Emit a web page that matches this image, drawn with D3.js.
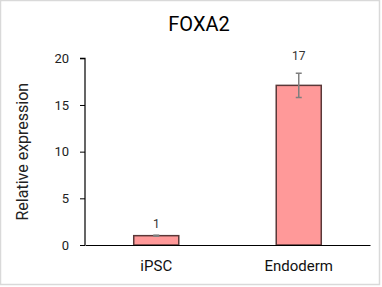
<!DOCTYPE html>
<html><head><meta charset="utf-8">
<script src="https://cdn.jsdelivr.net/npm/d3@7"></script>
<style>html,body{margin:0;padding:0;background:#fff;}svg{display:block;font-family:Roboto,"Open Sans",sans-serif;}</style>
</head><body>
<script>
const categories = ["iPSC", "Endoderm"];
const values = [1, 17.1];
const errors = [0.05, 1.3];
const labels = ["1", "17"];
const yTicks = [0, 5, 10, 15, 20];
const title = "FOXA2";
const yTitle = "Relative expression";

const W = 382, H = 287;
const m = {left: 85, right: 12, top: 58.3, bottom: 42};
const svg = d3.select("body").append("svg").attr("width", W).attr("height", H);
svg.append("rect").attr("x", 0.5).attr("y", 0.5).attr("width", W - 3).attr("height", H - 3)
  .attr("fill", "#fff").attr("stroke", "#d9d9d9").attr("stroke-width", 1.5);

const x = d3.scaleBand().domain(categories).range([m.left, W - m.right])
  .paddingInner(0.684).paddingOuter(0.342);
const y = d3.scaleLinear().domain([0, 20]).range([H - m.bottom, m.top]);

svg.append("text").attr("x", 199).attr("y", 31).attr("text-anchor", "middle")
  .attr("font-size", 20).attr("fill", "#000").text(title);

const yAxis = svg.append("g").attr("transform", `translate(${m.left},0)`)
  .call(d3.axisLeft(y).tickValues(yTicks).tickSize(5).tickPadding(11));
yAxis.select(".domain").attr("stroke", "#000").attr("stroke-width", 1.2).attr("d", `M-5,${y(20)}H0V${y(0)}`);
yAxis.selectAll(".tick line").attr("stroke", "#000");
yAxis.selectAll(".tick text").attr("font-size", 13).attr("fill", "#222").attr("font-family", "Roboto,sans-serif");

svg.append("text").attr("transform", `translate(28,${(y(0) + y(20)) / 2}) rotate(-90)`)
  .attr("text-anchor", "middle").attr("font-size", 16).attr("fill", "#222").text(yTitle);

const bars = svg.append("g");
bars.selectAll("rect").data(categories).join("rect")
  .attr("x", d => x(d)).attr("width", x.bandwidth())
  .attr("y", (d, i) => y(values[i])).attr("height", (d, i) => y(0) - y(values[i]))
  .attr("fill", "#ff9999").attr("stroke", "#5a3838").attr("stroke-width", 1.5);

const eb = svg.append("g").attr("stroke", "#7f7f7f").attr("stroke-width", 1.5);
categories.forEach((c, i) => {
  const cx = x(c) + x.bandwidth() / 2;
  const y1 = y(values[i] + errors[i]), y2 = y(values[i] - errors[i]);
  eb.append("line").attr("x1", cx).attr("x2", cx).attr("y1", y1).attr("y2", y2);
  eb.append("line").attr("x1", cx - 3).attr("x2", cx + 3).attr("y1", y1).attr("y2", y1);
  eb.append("line").attr("x1", cx - 3).attr("x2", cx + 3).attr("y1", y2).attr("y2", y2);
  svg.append("text").attr("x", cx).attr("y", y(values[i] + errors[i]) - (values[i] > 5 ? 13 : 7))
    .attr("text-anchor", "middle").attr("font-size", 12).attr("fill", "#333").text(labels[i]);
});

const xAxis = svg.append("g").attr("transform", `translate(0,${y(0)})`)
  .call(d3.axisBottom(x).tickSize(0).tickPadding(15));
xAxis.select(".domain").attr("stroke", "#000").attr("stroke-width", 1.2);
xAxis.selectAll(".tick text").attr("font-size", 15).attr("fill", "#111").attr("font-family", "Roboto,sans-serif");
</script>
</body></html>
